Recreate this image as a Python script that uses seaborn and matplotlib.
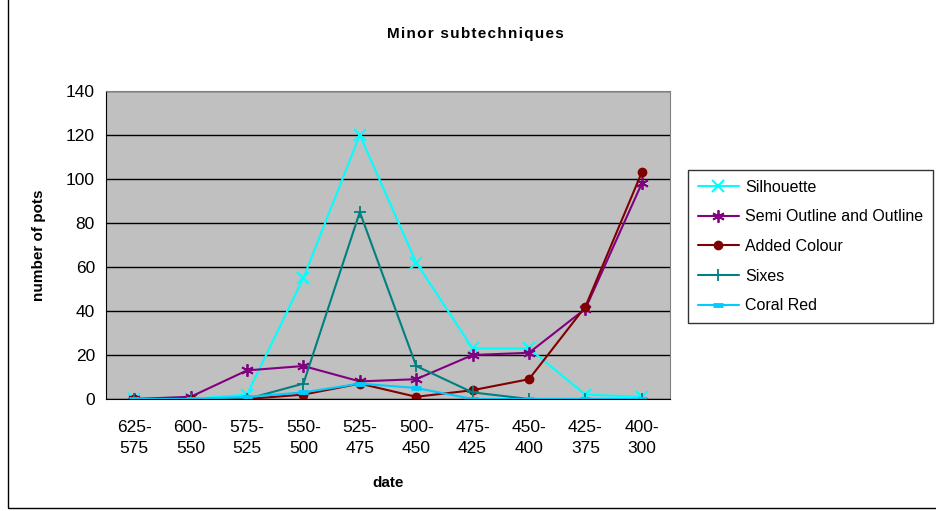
import numpy as np
import pandas as pd
import matplotlib
matplotlib.use("Agg")
import matplotlib.pyplot as plt
import seaborn as sns

# 데이터
dates = ["625-\n575", "600-\n550", "575-\n525", "550-\n500", "525-\n475",
         "500-\n450", "475-\n425", "450-\n400", "425-\n375", "400-\n300"]
silhouette = [0, 0, 2, 55, 120, 62, 23, 23, 2, 1]
semi_outline = [0, 1, 13, 15, 8, 9, 20, 21, 41, 98]
added_colour = [0, 0, 0, 2, 7, 1, 4, 9, 42, 103]
sixes = [0, 0, 0, 7, 85, 15, 3, 0, 0, 0]
coral_red = [0, 0, 1, 3, 7, 5, 0, 0, 0, 0]

series = [
    ("Silhouette", silhouette, "#00FFFF", "x", 8, 1.5),
    ("Semi Outline and Outline", semi_outline, "#800080", (6, 2, 0), 9, 1.3),
    ("Added Colour", added_colour, "#800000", "o", 6, 1),
    ("Sixes", sixes, "#008080", "+", 9, 1.3),
    ("Coral Red", coral_red, "#00CCFF", "_", 7, 3.5),
]

sns.set_style("white")
plt.rcParams['font.family'] = ['Liberation Sans', 'DejaVu Sans']
plt.rcParams['text.color'] = 'black'
plt.rcParams['axes.labelcolor'] = 'black'
plt.rcParams['xtick.color'] = 'black'
plt.rcParams['ytick.color'] = 'black'

fig = plt.figure(figsize=(9.37, 5.11), dpi=100)
ax = fig.add_axes([106 / 937, 1 - 399 / 511, 564 / 937, 308 / 511])
ax.set_facecolor("#C0C0C0")

xpos = np.arange(len(dates))
for name, vals, color, marker, ms, mew in series:
    df = pd.DataFrame({"x": xpos, "y": vals})
    sns.lineplot(data=df, x="x", y="y", ax=ax, color=color, marker=marker,
                 markersize=ms, markeredgewidth=mew, markeredgecolor=color,
                 linewidth=1.5, label=name, sort=False)

ax.set_ylim(0, 140)
ax.set_xlim(-0.5, len(dates) - 0.5)
ax.set_yticks(np.arange(0, 141, 20))
ax.yaxis.grid(True, color="black", linewidth=1)
ax.set_axisbelow(True)

# 눈금: 경계에 tick, 가운데에 라벨
ax.set_xticks(np.arange(-0.5, len(dates), 1))
ax.set_xticklabels([])
ax.set_xticks(xpos, minor=True)
ax.set_xticklabels(dates, minor=True, fontsize=12.5, linespacing=1.55)
ax.tick_params(axis="x", which="minor", length=0, pad=15)
ax.tick_params(axis="x", which="major", length=5, width=1, color="black", direction="out")
ax.tick_params(axis="y", length=5, width=1, color="black", direction="out", labelsize=12.5, pad=3)

for s in ["top", "right"]:
    ax.spines[s].set_color("#808080")
for s in ["left", "bottom"]:
    ax.spines[s].set_color("black")

ax.set_xlabel("date", fontsize=11, fontweight="bold", labelpad=14)
ax.set_ylabel("number of pots", fontsize=11, fontweight="bold", labelpad=14)
title = "\u200a".join("Minor subtechniques")
fig.text(475 / 937, 1 - 34 / 511, title, fontsize=11,
         fontweight="bold", ha="center", va="center")

leg = ax.legend(loc="upper left", bbox_to_anchor=(688 / 937, 1 - 170 / 511),
                bbox_transform=fig.transFigure, fontsize=11.5, frameon=True,
                fancybox=False, edgecolor="black", borderpad=0.6,
                labelspacing=0.92, handlelength=2.6, handletextpad=0.4,
                borderaxespad=0)
leg.get_frame().set_linewidth(1)

# 차트 테두리
fig.patches.append(plt.Rectangle((8 / 937, 3 / 511), 1.0, 1.0, transform=fig.transFigure,
                                 fill=False, edgecolor="black", linewidth=1))

plt.savefig("out.png", dpi=100)
